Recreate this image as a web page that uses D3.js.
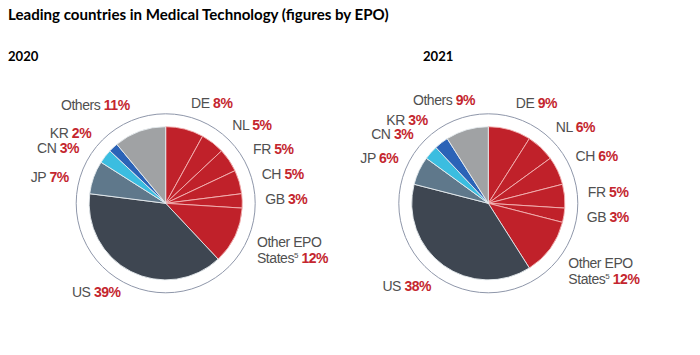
<!DOCTYPE html>
<html>
<head>
<meta charset="utf-8">
<script src="https://cdn.jsdelivr.net/npm/d3@7"></script>
<style>
  html, body { margin: 0; padding: 0; background: #fff; }
  svg { display: block; }
</style>
</head>
<body>
<svg id="chart" width="700" height="355"></svg>
<script>
// ---- data ----
const titleText = "Leading countries in Medical Technology (figures by EPO)";
const years = ["2020", "2021"];
const categories2020 = ["DE", "NL", "FR", "CH", "GB", "Other EPO States", "US", "JP", "CN", "KR", "Others"];
const values2020     = [8, 5, 5, 5, 3, 12, 39, 7, 3, 2, 11];
const categories2021 = ["DE", "NL", "CH", "FR", "GB", "Other EPO States", "US", "JP", "CN", "KR", "Others"];
const values2021     = [9, 6, 6, 5, 3, 12, 38, 6, 3, 3, 9];

// ---- styles / layout ----
const colors = {
  "DE": "#c0212a", "NL": "#c0212a", "FR": "#c0212a", "CH": "#c0212a", "GB": "#c0212a",
  "Other EPO States": "#c0212a",
  "US": "#3e4651", "JP": "#5f788b", "CN": "#3bbde0", "KR": "#2b63b7", "Others": "#a0a2a4"
};
const sepColor = { red: "#f3b4b4", other: "#e6ecef" };
const labelGray = "#505050";
const valueRed = "#c4262e";

const panels = [
  { year: years[0], cats: categories2020, vals: values2020, cx: 165.7, cy: 203.3, yearX: 8,
    nudge: { "DE": [0,-1], "NL": [4,3.3], "FR": [3,4], "CH": [-2,0.5], "GB": [-2.4,0.2],
             "Other EPO States": [-1,4], "US": [1.2,-0.8], "JP": [-1,8.9], "CN": [-6,8.5],
             "KR": [-4.7,4.6], "Others": [-1.5,-1] } },
  { year: years[1], cats: categories2021, vals: values2021, cx: 488.3, cy: 203.3, yearX: 423,
    nudge: { "DE": [-1,-1], "NL": [-2.4,-0.6], "CH": [-5,-3], "FR": [-2,-1], "GB": [-2.3,-1.6],
             "Other EPO States": [-2.5,8.4], "US": [2.7,0.9], "JP": [2.3,-1.2], "CN": [1.5,-0.5],
             "KR": [1.9,-1.7], "Others": [15.2,-4.4] } }
];
const pieR = 76.6, ringR = 89.5, labelR = 102;

const svg = d3.select("#chart");

function fitText(sel, target, base) {
  sel.style("font-size", base + "px");
  const w = sel.node().getComputedTextLength();
  sel.style("font-size", (base * target / w) + "px");
}
const title = svg.append("text")
  .attr("x", 8).attr("y", 20)
  .style("font-family", "Lato, 'Open Sans', sans-serif")
  .style("font-weight", "700")
  .style("fill", "#000")
  .text(titleText);
fitText(title, 381, 14);

const pie = d3.pie().sort(null).value(d => d.value);
const arc = d3.arc().innerRadius(0).outerRadius(pieR);

panels.forEach(p => {
  const yl = svg.append("text")
    .attr("x", p.yearX).attr("y", 61)
    .style("font-family", "Lato, 'Open Sans', sans-serif")
    .style("font-weight", "700")
    .style("fill", "#000")
    .text(p.year);
  fitText(yl, 30.5, 13);

  const g = svg.append("g").attr("transform", `translate(${p.cx},${p.cy})`);
  const data = p.cats.map((c, i) => ({ cat: c, value: p.vals[i] }));
  const arcs = pie(data);

  g.append("circle").attr("r", ringR)
    .attr("fill", "none").attr("stroke", "#8f97aa").attr("stroke-width", 1);

  g.selectAll("path.slice").data(arcs).join("path")
    .attr("class", "slice")
    .attr("d", arc)
    .attr("fill", d => colors[d.data.cat])
    .attr("stroke", d => colors[d.data.cat] === "#c0212a" ? sepColor.red : sepColor.other)
    .attr("stroke-width", 0.9)
    .attr("stroke-linejoin", "round");

  arcs.forEach(d => {
    const a = (d.startAngle + d.endAngle) / 2;
    const px = labelR * Math.sin(a), py = -labelR * Math.cos(a);
    const nd = p.nudge[d.data.cat] || [0, 0];
    const anchor = a < Math.PI ? "start" : "end";
    const two = d.data.cat === "Other EPO States";
    const x = px + nd[0];
    const y = py + 4 + nd[1] - (two ? 8 : 0);
    const t = g.append("text")
      .attr("x", x).attr("y", y)
      .attr("text-anchor", anchor)
      .style("font-family", "'Liberation Sans', Arial, sans-serif")
      .style("font-size", "14px")
      .style("letter-spacing", "-0.45px")
      .style("fill", labelGray);
    const pct = d.data.value + "%";
    if (two) {
      t.append("tspan").attr("x", x).attr("y", y).text("Other EPO");
      t.append("tspan").attr("x", x).attr("y", y + 16).text("States");
      t.append("tspan").attr("dy", -5).style("font-size", "8px").text("5");
      t.append("tspan").attr("dy", 5).text(" ");
      t.append("tspan").style("fill", valueRed).style("font-weight", "700").text(pct);
    } else {
      t.append("tspan").text(d.data.cat + " ");
      t.append("tspan").style("fill", valueRed).style("font-weight", "700").text(pct);
    }
  });
});
</script>
</body>
</html>
